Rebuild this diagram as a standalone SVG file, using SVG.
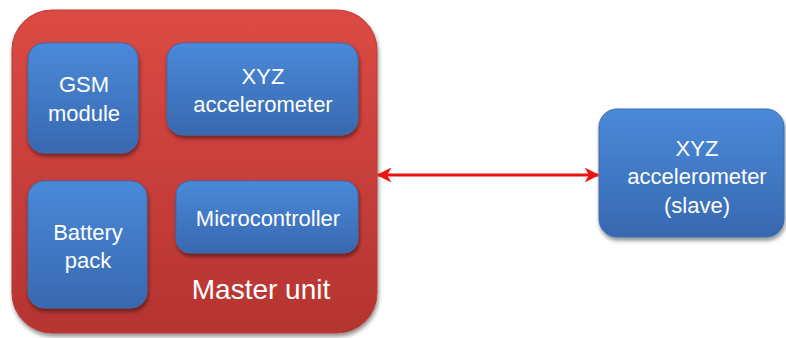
<svg xmlns="http://www.w3.org/2000/svg" width="786" height="338" viewBox="0 0 786 338">
<defs>
<linearGradient id="gRed" x1="0" y1="0" x2="0" y2="1">
<stop offset="0" stop-color="#dc4a44"/>
<stop offset="1" stop-color="#b53431"/>
</linearGradient>
<linearGradient id="gBlue" x1="0" y1="0" x2="0" y2="1">
<stop offset="0" stop-color="#4a8ad9"/>
<stop offset="1" stop-color="#3868b0"/>
</linearGradient>
<filter id="sh" x="-10%" y="-10%" width="125%" height="130%">
<feGaussianBlur in="SourceAlpha" stdDeviation="2"/>
<feOffset dx="1" dy="3" result="b"/>
<feComponentTransfer><feFuncA type="linear" slope="0.45"/></feComponentTransfer>
<feMerge><feMergeNode/><feMergeNode in="SourceGraphic"/></feMerge>
</filter>
<marker id="ah" viewBox="0 0 10 10" refX="9" refY="5" markerWidth="5" markerHeight="5" orient="auto-start-reverse">
<path d="M0,0 L10,5 L0,10 L3,5 Z" fill="#ee1111"/>
</marker>
<style>
.blue{fill:url(#gBlue);stroke:#3a6cb0;stroke-width:1;filter:url(#sh)}
.t{font-family:"Liberation Sans",Arial,sans-serif;font-size:22px;fill:#ffffff;text-anchor:middle}
.big{font-size:28px}
</style>
</defs>
<g id="master">
<rect x="12" y="10" width="365" height="323" rx="40" fill="url(#gRed)" stroke="#b83a36" stroke-width="1" filter="url(#sh)"/>
<text class="t big" x="261" y="299">Master unit</text>
</g>
<g id="gsm">
<rect class="blue" x="28" y="43" width="110" height="110" rx="16"/>
<text class="t" x="84" y="92">GSM</text>
<text class="t" x="84" y="121">module</text>
</g>
<g id="xyz">
<rect class="blue" x="167" y="43" width="191" height="92" rx="16"/>
<text class="t" x="263" y="84">XYZ</text>
<text class="t" x="263" y="112">accelerometer</text>
</g>
<g id="battery">
<rect class="blue" x="28" y="181" width="119" height="127" rx="16"/>
<text class="t" x="88" y="240">Battery</text>
<text class="t" x="88" y="268">pack</text>
</g>
<g id="micro">
<rect class="blue" x="176" y="181" width="182" height="72" rx="14"/>
<text class="t" x="268" y="226">Microcontroller</text>
</g>
<g id="slave">
<rect class="blue" x="599" y="109" width="185" height="128" rx="18"/>
<text class="t" x="697" y="156">XYZ</text>
<text class="t" x="697" y="184">accelerometer</text>
<text class="t" x="697" y="213">(slave)</text>
</g>
<g id="connectors">
<line x1="378" y1="175" x2="598" y2="175" stroke="#ee1111" stroke-width="3" marker-start="url(#ah)" marker-end="url(#ah)"/>
</g>
</svg>
